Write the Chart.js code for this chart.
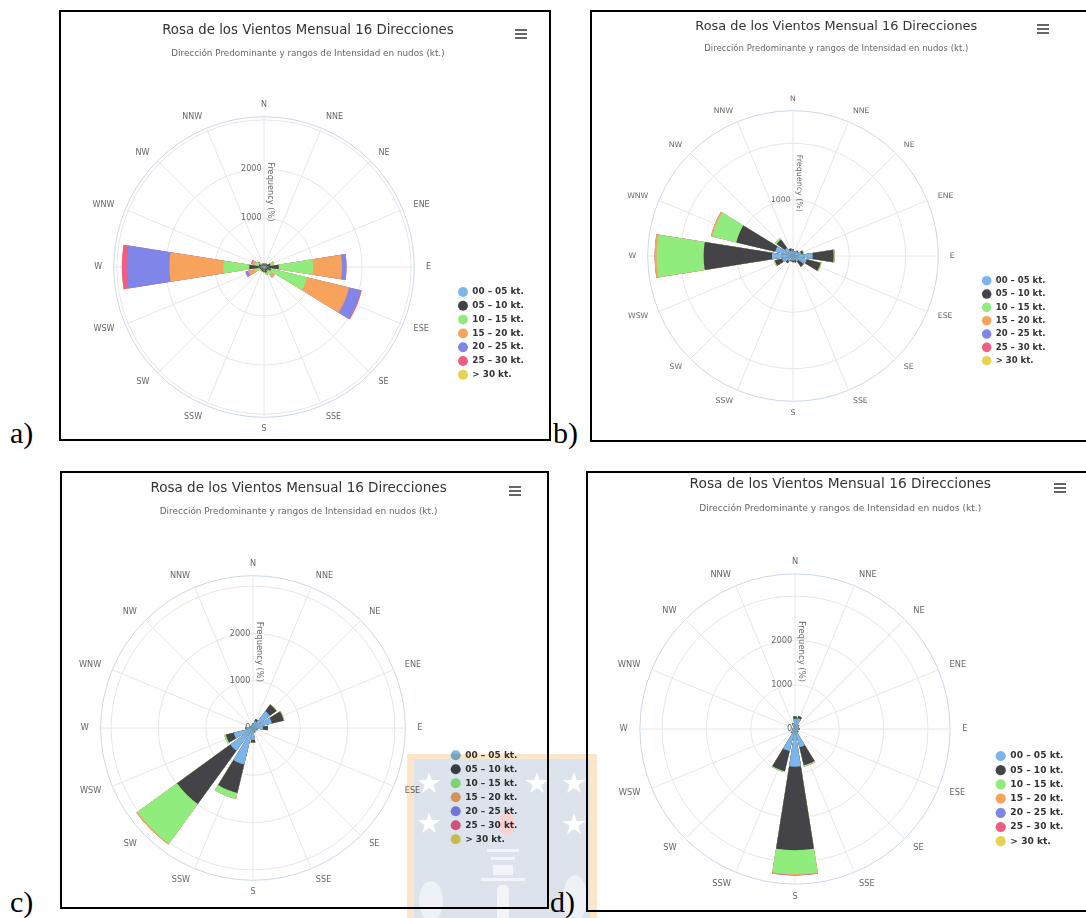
<!DOCTYPE html>
<html>
<head>
<meta charset="utf-8">
<script src="https://cdn.jsdelivr.net/npm/chart.js@4.4.1/dist/chart.umd.min.js"></script>
<style>
  html, body { margin:0; padding:0; background:#fff; width:1086px; height:918px; overflow:hidden; }
  .panel { position:absolute; border:2px solid #000; box-sizing:border-box; background:#fff; }
  canvas.rose { position:absolute; }
  .tag { position:absolute; font-family:"Liberation Serif","Times New Roman",serif; font-size:30px; line-height:30px; color:#000; }
  .menu { position:absolute; width:12px; height:10px; }
  .menu i { position:absolute; left:0; width:12px; height:2px; background:#666; }
  #wm { position:absolute; left:407px; top:754px; width:190px; height:170px; mix-blend-mode:multiply; }
  #wm div { position:absolute; }
  .star { width:24px; height:23px; background:#fff;
    clip-path: polygon(50% 0%, 61% 35%, 98% 35%, 68% 57%, 79% 91%, 50% 70%, 21% 91%, 32% 57%, 2% 35%, 39% 35%); }
</style>
</head>
<body>

<div class="panel" style="left:59px;top:10px;width:492px;height:431px"></div>
<div class="panel" style="left:590px;top:10px;width:520px;height:432px"></div>
<div class="panel" style="left:60px;top:471px;width:489px;height:438px"></div>
<div class="panel" style="left:586px;top:471px;width:520px;height:441px"></div>

<canvas class="rose" id="chartA"></canvas>
<canvas class="rose" id="chartB"></canvas>
<canvas class="rose" id="chartC"></canvas>
<canvas class="rose" id="chartD"></canvas>

<div class="menu" style="left:515px;top:29px"><i style="top:0"></i><i style="top:4px"></i><i style="top:8px"></i></div>
<div class="menu" style="left:1037px;top:24px"><i style="top:0"></i><i style="top:4px"></i><i style="top:8px"></i></div>
<div class="menu" style="left:509px;top:486px"><i style="top:0"></i><i style="top:4px"></i><i style="top:8px"></i></div>
<div class="menu" style="left:1054px;top:483px"><i style="top:0"></i><i style="top:4px"></i><i style="top:8px"></i></div>

<div class="tag" style="left:10px;top:418px">a)</div>
<div class="tag" style="left:553px;top:418px">b)</div>
<div class="tag" style="left:10px;top:887px">c)</div>
<div class="tag" style="left:550px;top:887px">d)</div>

<div id="wm">
  <div style="left:0;top:0;width:190px;height:170px;background:#fce6ca"></div>
  <div style="left:7px;top:5px;width:176px;height:165px;background:#dde3ec"></div>
  <div class="star" style="left:10px;top:18px"></div>
  <div class="star" style="left:118px;top:18px"></div>
  <div class="star" style="left:155px;top:18px"></div>
  <div class="star" style="left:10px;top:58px"></div>
  <div class="star" style="left:155px;top:59px"></div>
  <div style="left:92px;top:57px;width:16px;height:24px;background:#f7d2d0;border-radius:50% 50% 45% 45%"></div>
  <div style="left:80px;top:95px;width:32px;height:3px;background:#f2f4f7"></div>
  <div style="left:84px;top:103px;width:24px;height:3px;background:#f2f4f7"></div>
  <div style="left:86px;top:111px;width:20px;height:10px;background:#f2f4f7"></div>
  <div style="left:74px;top:124px;width:44px;height:3px;background:#f2f4f7"></div>
  <div style="left:90px;top:131px;width:12px;height:40px;background:#f2f4f7;border-radius:5px 5px 0 0"></div>
  <div style="left:12px;top:127px;width:24px;height:40px;background:#eef1f5;border-radius:50%"></div>
  <div style="left:156px;top:121px;width:24px;height:46px;background:#eef1f5;border-radius:50%"></div>
</div>

<script>
// ---------------- DATA ----------------
const directions = ['N','NNE','NE','ENE','E','ESE','SE','SSE','S','SSW','SW','WSW','W','WNW','NW','NNW'];
const speedBins  = ['00 – 05 kt.','05 – 10 kt.','10 – 15 kt.','15 – 20 kt.','20 – 25 kt.','25 – 30 kt.','> 30 kt.'];

// Panel a)            N    NNE  NE   ENE  E    ESE  SE   SSE  S    SSW  SW   WSW  W     WNW  NW   NNW
const a_00_05 = [      30,  30,  30,  40,  50,  40,  30,  40,  40,  30,  30,  30,  50,   30,  30,  30];
const a_05_10 = [      40,  40,  50, 100, 250, 110,  70,  80,  60,  60,  50,  60,  250,  80,  40,  40];
const a_10_15 = [       0,  10,  10,  60, 700, 755, 100,  40,  10,  10,  20, 110,  530,  80,  10,   0];
const a_15_20 = [       0,   0,   0,  10, 590, 880,  70,  10,   0,   0,   0, 130, 1100,  60,   0,   0];
const a_20_25 = [       0,   0,   0,   0,  90, 245,   0,   0,   0,   0,   0,  60,  870,  20,   0,   0];
const a_25_30 = [       0,   0,   0,   0,   5,  20,   0,   0,   0,   0,   0,   0,  100,   0,   0,   0];
const a_30_up = [       0,   0,   0,   0,   0,   0,   0,   0,   0,   0,   0,   0,    0,   0,   0,   0];
const a_ticks      = [0, 1000, 2000, 3000, 3065];
const a_tickLabels = ['0', '1000', '2000', '', ''];

// Panel b)
const b_00_05 = [     100,  80, 100, 150, 350, 250, 120,  80,  80,  80, 120, 200,  373, 325, 180, 100];
const b_05_10 = [      20,  10,  20,  40, 372, 255, 115,  40,  30,  20,  40, 130, 1214, 710, 180,  40];
const b_10_15 = [       0,   0,   0,   0,  18,  15,   5,   0,   0,   0,   0,  15,  834, 440,  30,   0];
const b_15_20 = [       0,   0,   0,   0,   0,   0,   0,   0,   0,   0,   0,   0,   36,  25,   0,   0];
const b_20_25 = [       0,   0,   0,   0,   0,   0,   0,   0,   0,   0,   0,   0,    0,   0,   0,   0];
const b_25_30 = [       0,   0,   0,   0,   0,   0,   0,   0,   0,   0,   0,   0,    0,   0,   0,   0];
const b_30_up = [       0,   0,   0,   0,   0,   0,   0,   0,   0,   0,   0,   0,    0,   0,   0,   0];
const b_ticks      = [0, 1000, 2000, 2580];
const b_tickLabels = ['0', '1000', '', ''];

// Panel c)
const c_00_05 = [      80, 150, 442, 413, 210,  80,  60,  80, 253, 793,  596, 420, 140,  60,  50,  60];
const c_05_10 = [      20,  45, 173, 254, 106,  20,  10,  20,  56, 621, 1389, 170,  20,  10,   0,  10];
const c_10_15 = [       0,   0,   5,   5,   0,   0,   0,   0,   0, 131, 1035,  34,   0,   0,   0,   0];
const c_15_20 = [       0,   0,   0,   8,   0,   0,   0,   0,   0,   0,   25,   0,   0,   0,   0,   0];
const c_20_25 = [       0,   0,   0,   0,   0,   0,   0,   0,   0,   0,    0,   0,   0,   0,   0,   0];
const c_25_30 = [       0,   0,   0,   0,   0,   0,   0,   0,   0,   0,    0,   0,   0,   0,   0,   0];
const c_30_up = [       0,   0,   0,   5,   0,   0,   0,   0,   0,   0,    0,   0,   0,   0,   0,   0];
const c_ticks      = [0, 1000, 2000, 3000, 3220];
const c_tickLabels = ['0', '1000', '2000', '', ''];

// Panel d)
const d_00_05 = [     232, 250, 100,  80,  80,  60,  80, 426,  850, 514, 100,  60,  60,  50,  60, 120];
const d_05_10 = [      53,  50,  20,  10,  30,  10,  20, 418, 1884, 464,  20,  10,   0,   0,   0,  20];
const d_10_15 = [       0,   5,   0,   0,   0,   0,   0,  26,  539,  22,   0,   0,   0,   0,   0,   0];
const d_15_20 = [       0,   0,   0,   0,   0,   0,   0,   5,   25,   0,   0,   0,   0,   0,   0,   0];
const d_20_25 = [       0,   0,   0,   0,   0,   0,   0,   0,    5,   0,   0,   0,   0,   0,   0,   0];
const d_25_30 = [       0,   0,   0,   0,   0,   0,   0,   0,    7,   0,   0,   0,   0,   0,   0,   0];
const d_30_up = [       0,   0,   0,   0,   0,   0,   0,   0,    0,   0,   0,   0,   0,   0,   0,   0];
const d_ticks      = [0, 1000, 2000, 3000, 3500];
const d_tickLabels = ['0', '1000', '2000', '', ''];

// ---------------- STYLE / LAYOUT ----------------
const binColors = ['#7cb5ec','#434348','#90ed7d','#f7a35c','#8085e9','#f15c80','#e4d354'];
const FONT = 'DejaVu Sans';
const TITLE = 'Rosa de los Vientos Mensual 16 Direcciones';
const SUBTITLE = 'Dirección Predominante y rangos de Intensidad en nudos (kt.)';
const AXIS_TITLE = 'Frequency (%)';
const WEDGE_FRACTION = 0.8;

const panels = [
  { id:'chartA', bins:[a_00_05,a_05_10,a_10_15,a_15_20,a_20_25,a_25_30,a_30_up], ticks:a_ticks, tickLabels:a_tickLabels,
    L:{x:61, y:12, w:488, h:427, s:1.0,   tx:246.7, ty:19,   sy:41.5, cx:203,   cy:255,   r:150.3, lx:402,   ly:280,   sp:13.8} },
  { id:'chartB', bins:[b_00_05,b_05_10,b_10_15,b_15_20,b_20_25,b_25_30,b_30_up], ticks:b_ticks, tickLabels:b_tickLabels,
    L:{x:592, y:12, w:494, h:428, s:0.967, tx:244,   ty:14.5, sy:37,   cx:201.7, cy:244,   r:145.3, lx:394.7, ly:268.7, sp:13.33} },
  { id:'chartC', bins:[c_00_05,c_05_10,c_10_15,c_15_20,c_20_25,c_25_30,c_30_up], ticks:c_ticks, tickLabels:c_tickLabels,
    L:{x:58, y:473, w:488, h:434, s:1.017, tx:240.3, ty:15,   sy:39,   cx:195.3, cy:255.7, r:153,   lx:397.7, ly:282.3, sp:14} },
  { id:'chartD', bins:[d_00_05,d_05_10,d_10_15,d_15_20,d_20_25,d_25_30,d_30_up], ticks:d_ticks, tickLabels:d_tickLabels,
    L:{x:588, y:473, w:498, h:436, s:1.034, tx:252,   ty:11.7, sy:35.7, cx:207,   cy:256.7, r:155.8, lx:412.7, ly:283,   sp:14.2} }
];

// wedge N is split in two halves (start & end of the ring); gaps are zero-valued elements
function ringValues(values) {
  const out = [values[0], 0];
  for (let k = 1; k < values.length; k++) out.push(values[k], 0);
  out.push(values[0]);
  return out;
}
function ringAngles(n, frac) {
  const step = 360 / n, w = step * frac, g = step - w;
  const out = [w / 2, g];
  for (let k = 1; k < n; k++) out.push(w, g);
  out.push(w / 2);
  return out;
}
function cumulative(bins, b) {
  return bins[0].map((_, d) => { let s = 0; for (let j = 0; j <= b; j++) s += bins[j][d]; return s; });
}

function makeAxisTitlePlugin(text, fontPx, offsetPx) {
  return {
    id: 'axisTitle',
    beforeDatasetsDraw(chart) {
      const sc = chart.scales.r, ctx = chart.ctx;
      ctx.save();
      ctx.translate(sc.xCenter + offsetPx, sc.yCenter - sc.drawingArea / 2);
      ctx.rotate(Math.PI / 2);
      ctx.font = fontPx.toFixed(2) + 'px "' + FONT + '"';
      ctx.fillStyle = '#666666';
      ctx.textAlign = 'center';
      ctx.textBaseline = 'middle';
      ctx.fillText(text, 0, 0);
      ctx.restore();
    }
  };
}

const angles = ringAngles(directions.length, WEDGE_FRACTION);

panels.forEach(P => {
  const L = P.L, s = L.s;
  const cv = document.getElementById(P.id);
  cv.width = L.w; cv.height = L.h;
  cv.style.left = L.x + 'px'; cv.style.top = L.y + 'px';

  const tickFs = 8 * s, plFs = 8 * s, plLH = 0.1;
  const titleFs = 13.3 * s, subFs = 8.8 * s, legFs = 8.8 * s;
  const LT = titleFs * 1.2, LS = subFs * 1.2;
  const dA0 = Math.round(L.r + plLH + 7.5 * s);
  const pAll = dA0 - plLH - L.r;
  const maxH = 2 * dA0 + tickFs + 0.5;
  const top = L.cy + 0.25 - maxH / 2;
  const padBottom = L.h - top - maxH;
  const titlePadTop = L.ty - LT / 2;
  const subPadTop = L.sy - LS / 2 - (L.ty + LT / 2);
  const subPadBottom = top - (L.sy + LS / 2);
  const lp = L.sp - legFs;
  const bh = 7 * s, psw = bh * Math.SQRT2;
  const legLeft = L.lx - lp - psw / 2;
  const LW = 2 * (L.tx - L.cx);
  const padLeft = 2 * (L.cx + 0.25) - legLeft;
  const padRight = L.w - legLeft - LW;
  const legTitlePad = L.ly - lp - legFs / 2 - 1.2;
  const rMax = P.ticks[P.ticks.length - 1];

  const datasets = speedBins.map((label, b) => ({
    label,
    data: ringValues(cumulative(P.bins, b)),
    backgroundColor: binColors[b],
    borderWidth: 0,
    angle: ctx => angles[ctx.dataIndex]
  }));

  new Chart(cv, {
    type: 'polarArea',
    data: { labels: directions, datasets },
    plugins: [makeAxisTitlePlugin(AXIS_TITLE, 8.2 * s, 6 * s)],
    options: {
      responsive: false,
      animation: false,
      devicePixelRatio: 1,
      layout: { padding: { left: padLeft, right: padRight, top: 0, bottom: padBottom } },
      scales: {
        r: {
          type: 'radialLinear',
          min: -0.01,
          max: rMax,
          beginAtZero: false,
          startAngle: 0,
          afterBuildTicks: sc => { sc.ticks = P.ticks.map(v => ({ value: v })); },
          ticks: {
            display: true,
            showLabelBackdrop: false,
            backdropPadding: 0,
            color: '#666666',
            font: { family: FONT, size: tickFs },
            callback: (v, i) => {
              const t = P.tickLabels[i] || '';
              return t ? t + ' '.repeat(Math.round(2 * t.length + 1.9)) : '';
            }
          },
          grid: {
            display: true,
            circular: true,
            lineWidth: 1,
            color: ctx => {
              if (ctx.index === 0) return 'rgba(0,0,0,0)';
              return (ctx.tick && ctx.tick.value >= rMax) ? '#ccd6eb' : '#e6e6e6';
            }
          },
          angleLines: { display: true, color: '#e6e6e6', lineWidth: 1 },
          pointLabels: {
            display: true,
            centerPointLabels: false,
            color: '#666666',
            font: { family: FONT, size: plFs, lineHeight: plLH + 'px' },
            padding: pAll
          }
        }
      },
      plugins: {
        tooltip: { enabled: false },
        title: {
          display: true, text: TITLE, color: '#333333',
          font: { family: FONT, size: titleFs, weight: 'normal' },
          padding: { top: titlePadTop, bottom: 0 }
        },
        subtitle: {
          display: true, text: SUBTITLE, color: '#666666',
          font: { family: FONT, size: subFs, weight: 'normal' },
          padding: { top: subPadTop, bottom: subPadBottom }
        },
        legend: {
          display: true,
          position: 'right',
          align: 'start',
          maxWidth: LW,
          title: { display: true, text: ' ', font: { size: 1 }, padding: { top: legTitlePad, bottom: 0 } },
          labels: {
            usePointStyle: true,
            pointStyle: 'circle',
            boxHeight: bh,
            pointStyleWidth: psw,
            padding: lp,
            color: '#333333',
            font: { family: FONT, size: legFs, weight: 'bold' },
            generateLabels: chart => chart.data.datasets.map((ds, i) => ({
              text: ds.label + '     ',
              fillStyle: ds.backgroundColor,
              strokeStyle: ds.backgroundColor,
              lineWidth: 0,
              pointStyle: 'circle',
              hidden: false,
              datasetIndex: i,
              fontColor: '#333333'
            }))
          }
        }
      }
    }
  });
});
</script>
</body>
</html>
